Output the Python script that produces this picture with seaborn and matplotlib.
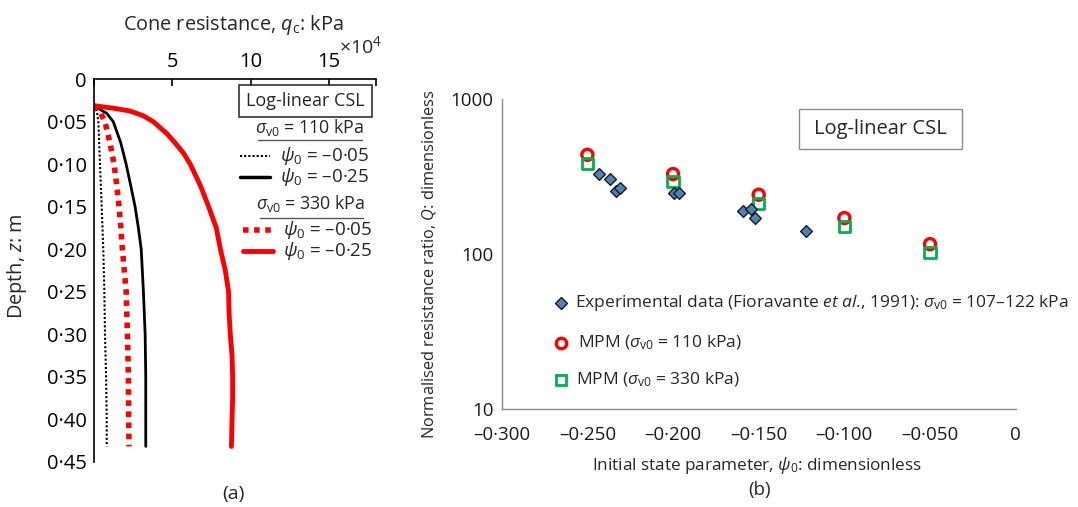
import matplotlib
matplotlib.use("Agg")
import matplotlib.pyplot as plt
import seaborn as sns
import pandas as pd
from matplotlib.lines import Line2D
from matplotlib.patches import Rectangle

# ---------------- Data: panel (a) cone resistance profiles ----------------
# sigma_v0 = 110 kPa, psi0 = -0.05 (black dotted)
depth_110_005 = [0.031, 0.036, 0.05, 0.10, 0.15, 0.20, 0.25, 0.30, 0.35, 0.40, 0.432]
qc_110_005 = [0, 1900, 3000, 4000, 5100, 6100, 6800, 7200, 7900, 8300, 8300]
# sigma_v0 = 110 kPa, psi0 = -0.25 (black solid)
depth_110_025 = [0.031, 0.04, 0.05, 0.075, 0.10, 0.125, 0.15, 0.175, 0.20, 0.25, 0.30, 0.35, 0.40, 0.432]
qc_110_025 = [0, 8300, 12500, 17300, 20700, 23600, 26400, 28500, 30300, 31700, 32800, 33200, 33200, 33200]
# sigma_v0 = 330 kPa, psi0 = -0.05 (red dotted)
depth_330_005 = [0.031, 0.04, 0.05, 0.075, 0.10, 0.125, 0.15, 0.175, 0.20, 0.25, 0.30, 0.35, 0.40, 0.432]
qc_330_005 = [0, 4500, 7200, 10400, 13000, 14700, 16200, 17300, 18300, 20700, 21500, 22100, 22300, 22500]
# sigma_v0 = 330 kPa, psi0 = -0.25 (red solid)
depth_330_025 = [0.031, 0.0322, 0.0340, 0.0373, 0.043, 0.05, 0.064, 0.075, 0.087, 0.10, 0.125, 0.15, 0.175,
                 0.20, 0.225, 0.25, 0.275, 0.30, 0.325, 0.35, 0.375, 0.40, 0.432]
qc_330_025 = [0, 5000, 12500, 23200, 31700, 38100, 46700, 52000, 57300, 61600, 68000, 73300, 78200,
              80800, 83900, 86000, 86300, 87100, 88200, 88600, 88600, 88200, 87800]

depth_ticks = [0, 0.05, 0.10, 0.15, 0.20, 0.25, 0.30, 0.35, 0.40, 0.45]
depth_labels = ["0", "0·05", "0·10", "0·15", "0·20", "0·25", "0·30", "0·35", "0·40", "0·45"]
qc_ticks = [0, 50000, 100000, 150000, 180000]
qc_labels = ["", "5", "10", "15", ""]

# ---------------- Data: panel (b) normalised resistance ----------------
exp_psi = [-0.2432, -0.2370, -0.2333, -0.2308, -0.1994, -0.1965, -0.1593, -0.1545, -0.1522, -0.1226]
exp_Q = [329, 305, 254, 266, 248, 248, 190, 197, 172, 141]
mpm_psi = [-0.25, -0.20, -0.15, -0.10, -0.05]
mpm110_Q = [438, 329, 242, 171, 116]
mpm330_Q = [385, 293, 212, 151, 102]

psi_ticks = [-0.30, -0.25, -0.20, -0.15, -0.10, -0.05, 0.0]
psi_labels = ["–0·300", "–0·250", "–0·200", "–0·150", "–0·100", "–0·050", "0"]
Q_ticks = [10, 100, 1000]
Q_labels = ["10", "100", "1000"]

# ---------------- Style ----------------
sns.set_style("white")
FONT = "Open Sans"
plt.rcParams["font.family"] = [FONT, "DejaVu Sans"]
plt.rcParams["mathtext.fontset"] = "custom"
plt.rcParams["mathtext.rm"] = FONT
plt.rcParams["mathtext.it"] = FONT + ":italic"
plt.rcParams["mathtext.bf"] = FONT + ":bold"

W, H = 1078, 507
fig = plt.figure(figsize=(W / 100, H / 100), dpi=100)

def fx(px):
    return px / W

def fy(py):
    return 1 - py / H

# ---------------- Panel (a) ----------------
axA = fig.add_axes([fx(93.7), fy(461.7), (376 - 93.7) / W, (461.7 - 79.3) / H])
sns.lineplot(x=qc_110_005, y=depth_110_005, ax=axA, sort=False, estimator=None,
             color="black", linestyle=(0, (1, 1)), linewidth=1.5)
sns.lineplot(x=qc_110_025, y=depth_110_025, ax=axA, sort=False, estimator=None,
             color="black", linewidth=2.0)
sns.lineplot(x=qc_330_005, y=depth_330_005, ax=axA, sort=False, estimator=None,
             color="#ff0000", linestyle=(0, (1, 1)), linewidth=4.0)
sns.lineplot(x=qc_330_025, y=depth_330_025, ax=axA, sort=False, estimator=None,
             color="#ff0000", linewidth=3.5)

axA.set_xlim(0, 180000)
axA.set_ylim(0.45, 0)
axA.xaxis.tick_top()
axA.set_xticks(qc_ticks)
axA.set_xticklabels(qc_labels)
axA.set_yticks(depth_ticks)
axA.set_yticklabels(depth_labels)
for s in ["right", "bottom"]:
    axA.spines[s].set_visible(False)
for s in ["left", "top"]:
    axA.spines[s].set_color("black")
    axA.spines[s].set_linewidth(1.2)
axA.tick_params(axis="x", direction="in", length=5, width=1.2, pad=5, labelsize=14.5, colors="black")
axA.tick_params(axis="y", direction="in", length=5, width=1.2, pad=5, labelsize=14.5, colors="black")
axA.set_xlabel("")
axA.set_ylabel("")

fig.text(fx(233), fy(25), r"Cone resistance, $q_{\mathrm{c}}$: kPa", ha="center", va="center", fontsize=14.3)
fig.text(fx(361), fy(46), r"×10$^{4}$", ha="center", va="center", fontsize=14)
fig.text(fx(17), fy(266), r"Depth, $z$: m", ha="center", va="center", rotation=90, fontsize=14.3)
fig.text(fx(233), fy(494), "(a)", ha="center", va="center", fontsize=14)

# legend of panel (a)
fig.add_artist(Rectangle((fx(239), fy(116.7)), (372.3 - 239) / W, (116.7 - 85) / H,
                         transform=fig.transFigure, fill=False, edgecolor="#333333", linewidth=1.2))
fig.text(fx(305.7), fy(101), "Log-linear CSL", ha="center", va="center", fontsize=13)

def leg_line(x0, x1, y, **kw):
    fig.add_artist(Line2D([fx(x0), fx(x1)], [fy(y), fy(y)], transform=fig.transFigure, **kw))

fig.text(fx(310), fy(128), r"$\sigma_{\mathrm{v0}}$ = 110 kPa", ha="center", va="center", fontsize=12.8)
leg_line(258, 362, 140, color="#555555", linewidth=1.0)
leg_line(240, 270, 156, color="black", linestyle=(0, (1, 1)), linewidth=1.5)
fig.text(fx(280), fy(156), r"$\psi_0$ = –0·05", ha="left", va="center", fontsize=13.5)
leg_line(240, 270, 177, color="black", linewidth=2.5)
fig.text(fx(280), fy(177), r"$\psi_0$ = –0·25", ha="left", va="center", fontsize=13.5)

fig.text(fx(311), fy(203), r"$\sigma_{\mathrm{v0}}$ = 330 kPa", ha="center", va="center", fontsize=12.8)
leg_line(260, 363, 218, color="#555555", linewidth=1.0)
leg_line(243, 273, 230, color="#ff0000", linestyle=(0, (1, 1)), linewidth=4.0)
fig.text(fx(283), fy(230), r"$\psi_0$ = –0·05", ha="left", va="center", fontsize=13.5)
leg_line(243, 273, 251, color="#ff0000", linewidth=3.5)
fig.text(fx(283), fy(251), r"$\psi_0$ = –0·25", ha="left", va="center", fontsize=13.5)

# ---------------- Panel (b) ----------------
axB = fig.add_axes([fx(501.7), fy(409), 514 / W, (409 - 99.3) / H])
RED = "#ff0000"
GREEN = "#00b050"
BLUE = "#4f81bd"
sns.scatterplot(x=mpm_psi, y=mpm110_Q, ax=axB, marker="o", s=64, facecolors="none",
                edgecolor=RED, linewidth=2.4, zorder=3)
sns.scatterplot(x=mpm_psi, y=mpm330_Q, ax=axB, marker="s", s=64, facecolors="none",
                edgecolor=GREEN, linewidth=2.0, zorder=4)
sns.scatterplot(x=exp_psi, y=exp_Q, ax=axB, marker="D", s=36, color=BLUE,
                edgecolor="#1a1a1a", linewidth=1.0, zorder=5)

axB.set_yscale("log")
axB.set_xlim(-0.30, 0.0)
axB.set_ylim(10, 1000)
axB.set_xticks(psi_ticks)
axB.set_xticklabels(psi_labels)
axB.set_yticks(Q_ticks)
axB.set_yticklabels(Q_labels)
axB.yaxis.set_minor_locator(matplotlib.ticker.NullLocator())
for s in ["right", "top"]:
    axB.spines[s].set_visible(False)
for s in ["left", "bottom"]:
    axB.spines[s].set_color("#8c8c8c")
    axB.spines[s].set_linewidth(1.0)
axB.tick_params(axis="x", direction="out", length=4, width=1.0, color="#8c8c8c", pad=8,
                labelsize=13.5, labelcolor="#1a1a1a")
axB.tick_params(axis="y", direction="out", length=4, width=1.0, color="#8c8c8c", pad=2,
                labelsize=13.5, labelcolor="#1a1a1a")
axB.set_xlabel("")
axB.set_ylabel("")

fig.text(fx(757), fy(465), r"Initial state parameter, $\psi_0$: dimensionless", ha="center", va="center", fontsize=12.3)
fig.text(fx(760), fy(490), "(b)", ha="center", va="center", fontsize=13.5)
fig.text(fx(429), fy(264), r"Normalised resistance ratio, $Q$: dimensionless", ha="center", va="center",
         rotation=90, fontsize=11.8)

fig.add_artist(Rectangle((fx(798.7), fy(149.3)), (961.7 - 798.7) / W, (149.3 - 109.3) / H,
                         transform=fig.transFigure, fill=False, edgecolor="#8c8c8c", linewidth=1.0))
fig.text(fx(880), fy(129), "Log-linear CSL", ha="center", va="center", fontsize=14.5)

fig.add_artist(Line2D([fx(560.7)], [fy(302.7)], transform=fig.transFigure, marker="D", markersize=6,
                      markerfacecolor=BLUE, markeredgecolor="#1a1a1a", markeredgewidth=1.0, linestyle="none"))
fig.text(fx(575), fy(302.7), r"Experimental data (Fioravante $et$ $al$., 1991): $\sigma_{\mathrm{v0}}$ = 107–122 kPa",
         ha="left", va="center", fontsize=12.5)
fig.add_artist(Line2D([fx(560.7)], [fy(342.7)], transform=fig.transFigure, marker="o", markersize=7.5,
                      markerfacecolor="none", markeredgecolor=RED, markeredgewidth=2.4, linestyle="none"))
fig.text(fx(578), fy(342.7), r"MPM ($\sigma_{\mathrm{v0}}$ = 110 kPa)", ha="left", va="center", fontsize=12.5)
fig.add_artist(Line2D([fx(560.7)], [fy(380)], transform=fig.transFigure, marker="s", markersize=7.5,
                      markerfacecolor="none", markeredgecolor=GREEN, markeredgewidth=2.0, linestyle="none"))
fig.text(fx(576), fy(380), r"MPM ($\sigma_{\mathrm{v0}}$ = 330 kPa)", ha="left", va="center", fontsize=12.5)

fig.savefig("out.png", dpi=100)
